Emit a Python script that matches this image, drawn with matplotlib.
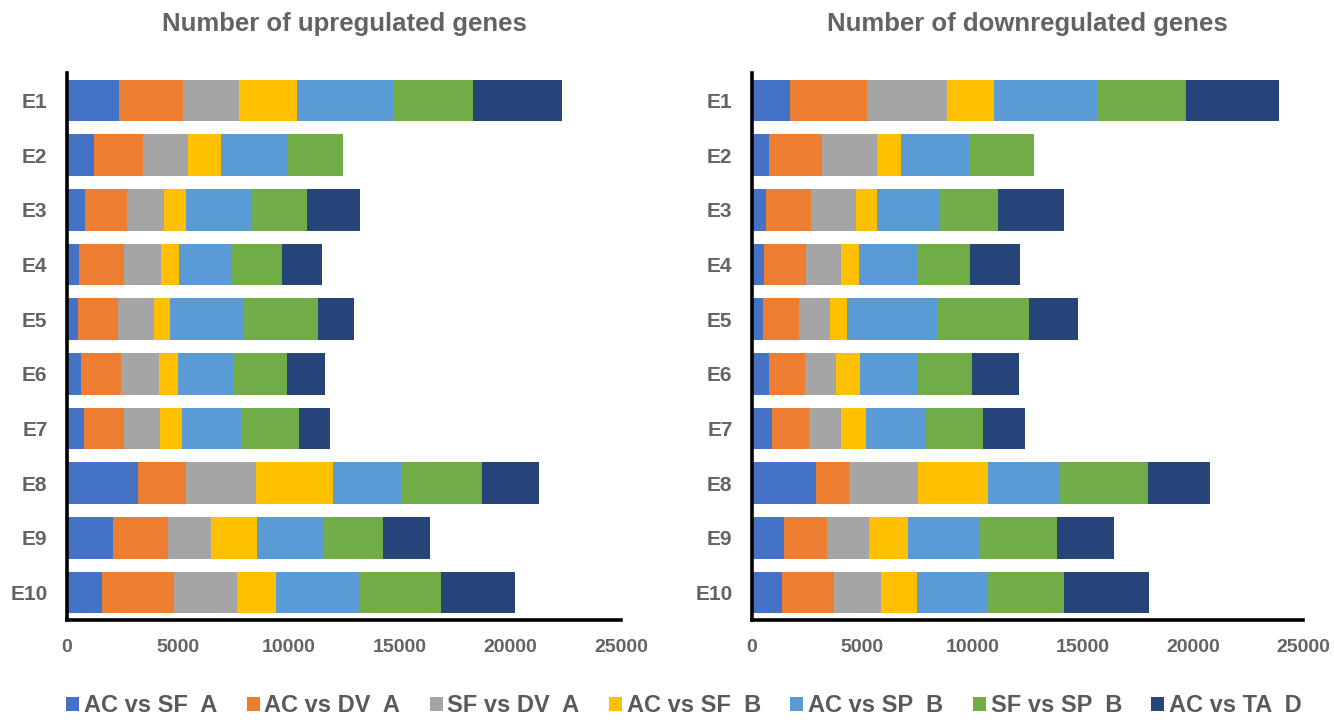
import numpy as np
import matplotlib
matplotlib.use('Agg')
import matplotlib.pyplot as plt

plt.rcParams['font.family'] = ['Liberation Sans', 'DejaVu Sans']

samples = ['E1', 'E2', 'E3', 'E4', 'E5', 'E6', 'E7', 'E8', 'E9', 'E10']
series = ['AC vs SF  A', 'AC vs DV  A', 'SF vs DV  A', 'AC vs SF  B',
          'AC vs SP  B', 'SF vs SP  B', 'AC vs TA  D']
colors = ['#4472C4', '#ED7D31', '#A5A5A5', '#FFC000', '#5B9BD5', '#70AD47', '#264478']

# rows = samples E1..E10, columns = series
up = np.array([
    [2340, 2890, 2520, 2640, 4370, 3570, 4000],
    [1230, 2200, 2030, 1500, 2950, 2550, 0],
    [810, 1880, 1680, 990, 2960, 2500, 2400],
    [550, 2030, 1650, 810, 2420, 2230, 1820],
    [510, 1800, 1610, 720, 3330, 3360, 1630],
    [620, 1810, 1720, 870, 2520, 2370, 1740],
    [770, 1800, 1620, 990, 2710, 2570, 1430],
    [3210, 2180, 3160, 3470, 3090, 3600, 2580],
    [2060, 2520, 1920, 2090, 2940, 2750, 2110],
    [1590, 3240, 2850, 1770, 3770, 3670, 3320],
])
down = np.array([
    [1730, 3510, 3590, 2160, 4710, 4010, 4190],
    [790, 2370, 2490, 1090, 3120, 2930, 0],
    [640, 2030, 2060, 920, 2890, 2600, 3030],
    [560, 1900, 1600, 780, 2660, 2370, 2300],
    [480, 1650, 1420, 780, 4110, 4110, 2240],
    [760, 1660, 1400, 1070, 2650, 2440, 2130],
    [890, 1710, 1440, 1140, 2700, 2600, 1910],
    [2900, 1520, 3130, 3180, 3260, 3990, 2810],
    [1460, 1940, 1900, 1790, 3220, 3550, 2570],
    [1360, 2360, 2130, 1620, 3260, 3430, 3860],
])

W, H = 1334, 722
fig = plt.figure(figsize=(W / 100, H / 100), dpi=100)
ax1 = fig.add_axes([67 / W, 102 / H, 554 / W, 547 / H])
ax2 = fig.add_axes([752 / W, 102 / H, 551 / W, 547 / H])

grey = '#636363'


def draw(ax, data, title):
    y = np.arange(len(samples))
    left = np.zeros(len(samples))
    for j, name in enumerate(series):
        ax.barh(y, data[:, j], left=left, height=0.76, color=colors[j], label=name)
        left += data[:, j]
    ax.set_xlim(0, 25000)
    ax.set_ylim(len(samples) - 0.5, -0.5)
    ax.set_yticks(y)
    ax.set_yticklabels(samples)
    ax.set_xticks(np.arange(0, 25001, 5000))
    for s in ['top', 'right']:
        ax.spines[s].set_visible(False)
    for s in ['left', 'bottom']:
        ax.spines[s].set_linewidth(2.6)
        ax.spines[s].set_color('black')
    ax.tick_params(axis='x', length=0, pad=14, labelsize=14, labelcolor=grey)
    ax.tick_params(axis='y', length=0, pad=14, labelsize=15, labelcolor=grey)
    for lab in ax.get_xticklabels() + ax.get_yticklabels():
        lab.set_fontweight('bold')
    ax.set_title(title, fontsize=18.5, fontweight='bold', color=grey, pad=30)


draw(ax1, up, 'Number of upregulated genes')
draw(ax2, down, 'Number of downregulated genes')

handles, labels = ax1.get_legend_handles_labels()
fig.legend(handles, labels, loc='center', bbox_to_anchor=(684 / W, 1 - 706 / H), ncol=7,
           frameon=False, handlelength=0.55, handleheight=0.55,
           handletextpad=0.2, columnspacing=1.25,
           prop={'size': 17, 'weight': 'bold'}, labelcolor='#5a5a5a')

fig.savefig('out.png', dpi=100)
